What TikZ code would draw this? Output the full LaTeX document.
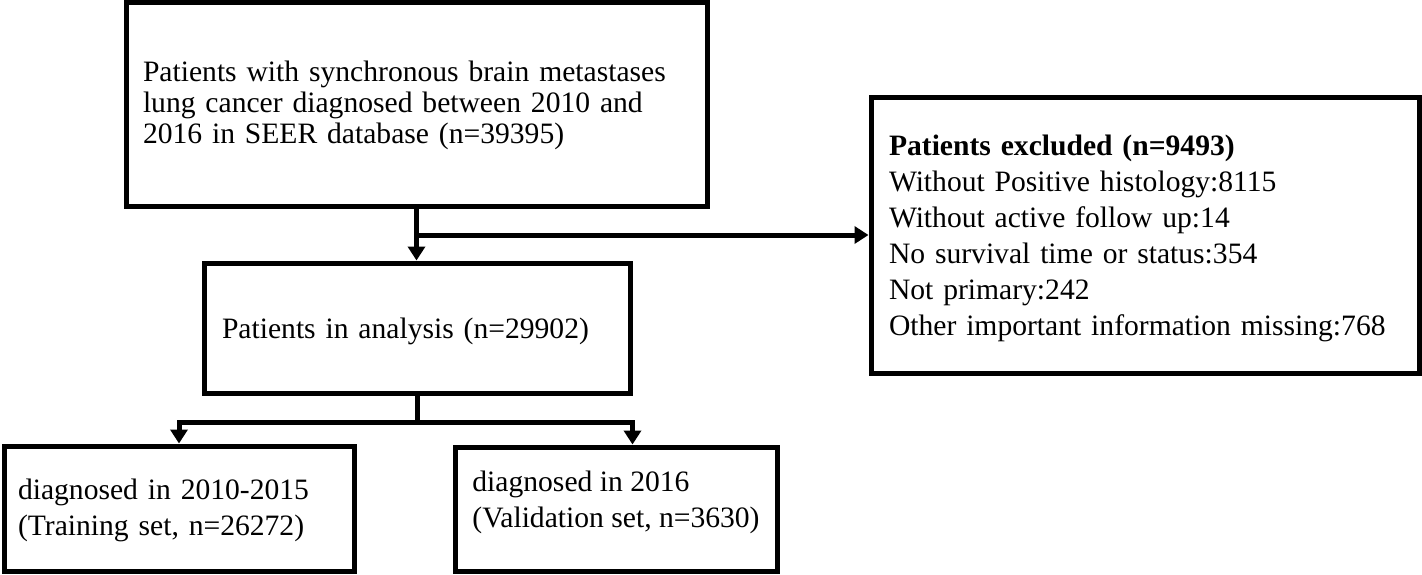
\documentclass[tikz,border=0pt]{standalone}
\usepackage{fontspec}
\setmainfont{Liberation Serif}
\usetikzlibrary{arrows.meta}
\begin{document}
\begin{tikzpicture}[x=1pt,y=-1pt,
  box/.style={draw, line width=5pt, rectangle, align=left, anchor=center, inner ysep=0pt},
  big/.style={font=\fontsize{29.6}{36}\selectfont},
  conn/.style={line width=5pt},
  arr/.style={line width=5pt, -{Triangle[width=17pt,length=14pt]}}]
\useasboundingbox (0,0) rectangle (1422,574);

\node[box, minimum width=581pt, minimum height=204pt, text width=547pt, inner xsep=17pt,
      font=\fontsize{29.6}{31}\selectfont] (b1) at (416.5,104)
  {\rule{0pt}{24pt}Patients with synchronous brain metastases\\lung cancer diagnosed between 2010 and\\2016 in SEER database (n=39395)};

\node[box, big, minimum width=548pt, minimum height=276pt, text width=512pt, inner xsep=18pt] (b3) at (1145,235)
  {\rule{0pt}{28pt}\textbf{Patients excluded (n=9493)}\\Without Positive histology:8115\\Without active follow up:14\\No survival time or status:354\\Not primary:242\\Other important information missing:768};

\node[box, big, minimum width=426pt, minimum height=130pt, text width=390pt, inner xsep=18pt] (b2) at (417,328)
  {\rule{0pt}{28pt}Patients in analysis (n=29902)};

\node[box, big, minimum width=350pt, minimum height=125pt, text width=322pt, inner xsep=14pt] (b4) at (179,508.5)
  {\rule{0pt}{25pt}diagnosed in 2010-2015\\(Training set, n=26272)};

\node[box, big, minimum width=322pt, minimum height=124pt] (b5) at (616,509)
  {diagnosed in 2016\\(Validation set, n=3630)\rule[-20pt]{0pt}{0pt}};

\draw[arr] (b1.south) -- (b1.south |- b2.north);
\draw[arr] (b1.south |- b3.west) -- (b3.west);
\draw[conn] (b2.south) -- ++(0,26.5) coordinate (split);
\draw[arr] (split) -| (b4.north);
\draw[arr] (split) -| (b2.east |- b5.north);
\end{tikzpicture}
\end{document}
